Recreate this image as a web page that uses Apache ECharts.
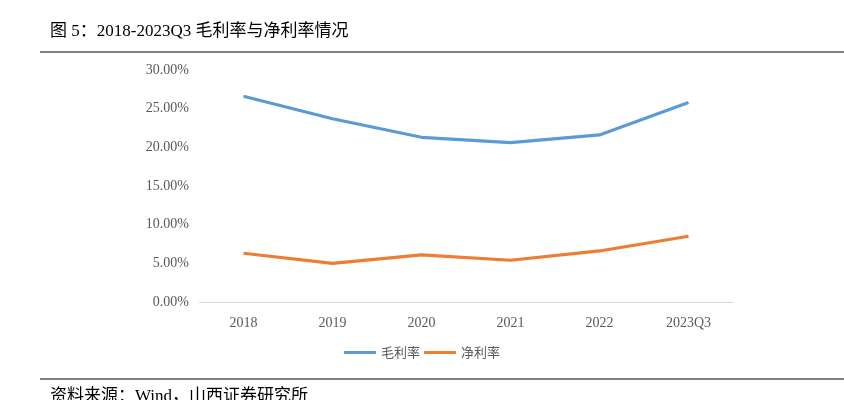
<!DOCTYPE html>
<html><head><meta charset="utf-8">
<script src="https://cdn.jsdelivr.net/npm/echarts@6/dist/echarts.min.js"></script>
<style>html,body{margin:0;padding:0;background:#fff}#c{width:844px;height:400px}</style>
</head><body><div id="c"></div>
<script>
const categories = ['2018','2019','2020','2021','2022','2023Q3'];
const grossMargin = [26.6, 23.7, 21.3, 20.6, 21.6, 25.8];
const netMargin = [6.3, 5.0, 6.1, 5.4, 6.6, 8.5];
const seriesNames = ['毛利率','净利率'];
const titleText = '图 5：2018-2023Q3 毛利率与净利率情况';
const sourceText = '资料来源：Wind，山西证券研究所';

const chart = echarts.init(document.getElementById('c'));
chart.setOption({
  animation: false,
  backgroundColor: '#fff',
  graphic: [
    {type:'text', left:50, top:23, style:{text:titleText, font:'17px "Liberation Serif","Noto Sans CJK SC"', fill:'#000'}},
    {type:'line', shape:{x1:40,y1:52,x2:844,y2:52}, style:{stroke:'#000', lineWidth:1}},
    {type:'line', shape:{x1:40,y1:379,x2:844,y2:379}, style:{stroke:'#000', lineWidth:1}},
    {type:'text', left:50, top:388, style:{text:sourceText, font:'17px "Liberation Serif","Noto Sans CJK SC"', fill:'#000'}}
  ],
  grid: {left:199, right:111, top:70, bottom:98},
  legend: {
    data: seriesNames, bottom: 36, left: 'center', itemWidth: 32, itemHeight: 3, itemGap: 4,
    icon: 'rect',
    textStyle: {color:'#595959', fontSize:13, fontFamily:'"Noto Sans CJK SC"'}
  },
  xAxis: {
    type:'category', data: categories, boundaryGap:true,
    axisLine:{lineStyle:{color:'#d9d9d9', width:1}}, axisTick:{show:false},
    axisLabel:{color:'#595959', fontSize:14, fontFamily:'"Liberation Serif"', margin:14}
  },
  yAxis: {
    type:'value', min:0, max:30, interval:5,
    axisLine:{show:false}, axisTick:{show:false}, splitLine:{show:false},
    axisLabel:{color:'#595959', fontSize:14, fontFamily:'"Liberation Serif"', margin:10, padding:[6,0,0,0],
      formatter: v => v.toFixed(2) + '%'}
  },
  series: [
    {name:seriesNames[0], type:'line', data:grossMargin, symbol:'none', lineStyle:{color:'#5B9BD5', width:3.2}, itemStyle:{color:'#5B9BD5'}},
    {name:seriesNames[1], type:'line', data:netMargin, symbol:'none', lineStyle:{color:'#ED7D31', width:3.2}, itemStyle:{color:'#ED7D31'}}
  ]
});
</script></body></html>
